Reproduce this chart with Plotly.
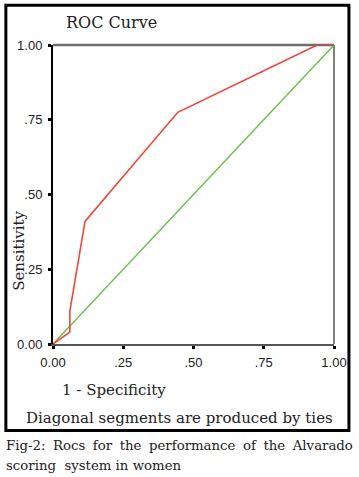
import plotly.graph_objects as go

# Data
fpr = [0.0, 0.06, 0.06, 0.114, 0.444, 0.94, 1.0]
tpr = [0.0, 0.04, 0.11, 0.41, 0.775, 1.0, 1.0]
ref_x = [0.0, 1.0]
ref_y = [0.0, 1.0]
tick_vals = [0, 0.25, 0.5, 0.75, 1.0]
tick_text = ["0.00", ".25", ".50", ".75", "1.00"]

W, H = 359, 477
L, R, T, B = 53, 18, 45, 133
PW, PH = W - L - R, H - T - B

def px(x):
    return (x - L) / PW

def py(y):
    return 1 - (y - T) / PH

fig = go.Figure()
fig.add_trace(go.Scatter(x=ref_x, y=ref_y, mode="lines",
                         line=dict(color="#6cbf4c", width=1.5),
                         cliponaxis=False, showlegend=False, hoverinfo="skip"))
fig.add_trace(go.Scatter(x=fpr, y=tpr, mode="lines",
                         line=dict(color="#f0463a", width=1.6),
                         cliponaxis=False, showlegend=False, hoverinfo="skip"))

axis_common = dict(range=[0, 1], tickvals=tick_vals, ticktext=tick_text,
                   showgrid=False, zeroline=False, ticks="outside",
                   ticklen=3, tickwidth=3, tickcolor="black",
                   tickfont=dict(family="Liberation Sans", size=13, color="#222"),
                   showline=True, fixedrange=True)

fig.update_layout(
    width=W, height=H,
    margin=dict(l=L, r=R, t=T, b=B),
    paper_bgcolor="white", plot_bgcolor="white",
    xaxis=dict(**axis_common, linecolor="#555", linewidth=2, ticklabelstandoff=2),
    yaxis=dict(**axis_common, linecolor="black", linewidth=2, ticklabelstandoff=3),
)

# inner frame top and right
fig.add_shape(type="line", xref="paper", yref="paper", x0=0, x1=1, y0=1, y1=1,
              line=dict(color="#6e6e6e", width=2.5), layer="below")
fig.add_shape(type="line", xref="paper", yref="paper", x0=1, x1=1, y0=0, y1=1,
              line=dict(color="#555", width=1.5), layer="below")
# outer border
fig.add_shape(type="rect", xref="paper", yref="paper",
              x0=px(4.7), x1=px(356.3), y0=py(430.5), y1=py(5.3),
              line=dict(color="black", width=3))

serif = "DejaVu Serif"
fig.add_annotation(text="ROC Curve", xref="paper", yref="paper",
                   x=px(64), y=py(22), xanchor="left", yanchor="middle",
                   showarrow=False, font=dict(family=serif, size=16, color="#222"))
fig.add_annotation(text="Sensitivity", xref="paper", yref="paper",
                   x=px(18), y=py(251), xanchor="center", yanchor="middle",
                   textangle=-90, showarrow=False,
                   font=dict(family=serif, size=15, color="#222"))
fig.add_annotation(text="1 - Specificity", xref="paper", yref="paper",
                   x=px(60), y=py(390), xanchor="left", yanchor="middle",
                   showarrow=False, font=dict(family=serif, size=15, color="#222"))
fig.add_annotation(text="Diagonal segments are produced by ties", xref="paper", yref="paper",
                   x=px(183), y=py(418), xanchor="center", yanchor="middle",
                   showarrow=False, font=dict(family=serif, size=15, color="#222"))
gap = " \u2005"
fig.add_annotation(text=gap.join("Fig-2: Rocs for the performance of the Alvarado".split(" ")),
                   xref="paper", yref="paper",
                   x=px(3), y=py(445), xanchor="left", yanchor="middle",
                   showarrow=False, font=dict(family=serif, size=13.3, color="#222"))
fig.add_annotation(text="scoring\u00a0\u00a0system in women", xref="paper", yref="paper",
                   x=px(3), y=py(465), xanchor="left", yanchor="middle",
                   showarrow=False, font=dict(family=serif, size=13.3, color="#222"))

fig.write_html("out.html", config={"displayModeBar": False},
               post_script="document.body.style.margin='0';document.body.style.overflow='hidden';")
